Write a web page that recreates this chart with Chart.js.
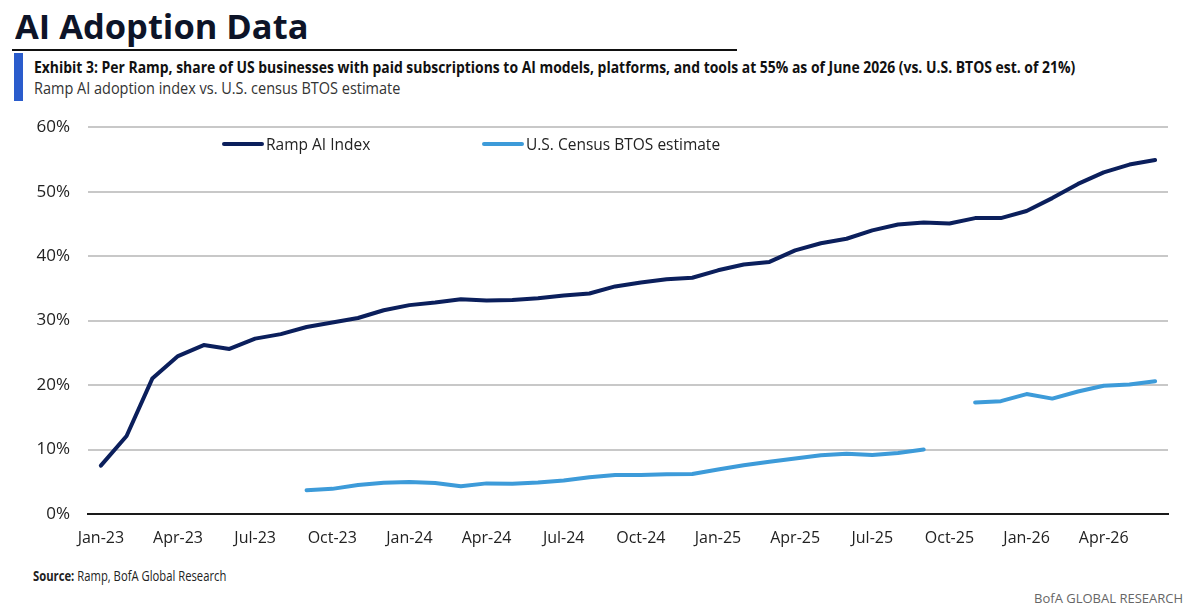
<!DOCTYPE html>
<html>
<head>
<meta charset="utf-8">
<script src="https://cdn.jsdelivr.net/npm/chart.js@4.4.1/dist/chart.umd.min.js"></script>
<style>
  html, body { margin: 0; padding: 0; background: #fff; }
  body { width: 1200px; height: 614px; position: relative; overflow: hidden; font-family: "Open Sans", sans-serif; }
  .abs { position: absolute; white-space: nowrap; transform-origin: 0 0; line-height: 1; }
  #title { left: 15px; top: 9px; font-size: 34px; font-weight: 700; color: #0d1428; }
  #rule { position: absolute; left: 12px; top: 49px; width: 725px; height: 2px; background: #111; }
  #bar { position: absolute; left: 14px; top: 53px; width: 9px; height: 48px; background: #2a5ccc; }
  #exhibit { left: 34px; top: 59px; font-size: 16.5px; font-weight: 700; color: #111; }
  #sub { left: 34px; top: 80px; font-size: 16.5px; color: #333; }
  #wrap { position: absolute; left: 0; top: 99px; width: 1200px; height: 466px; }
  #legend { position: absolute; top: 133px; left: 0; height: 18px; }
  .item { position: absolute; top: 0; display: flex; align-items: center; white-space: nowrap; font-size: 15.5px; color: #222; }
  .item span.sw { display: inline-block; width: 42px; height: 4px; border-radius: 2px; margin-right: 2px; }
  #source { left: 33px; top: 569px; font-size: 14px; color: #222; }
  #bofa { position: absolute; right: 17px; top: 589px; font-size: 13px; color: #666; white-space: nowrap; }
</style>
</head>
<body>
<div id="title" class="abs">AI Adoption Data</div>
<div id="rule"></div>
<div id="bar"></div>
<div id="exhibit" class="abs">Exhibit 3: Per Ramp, share of US businesses with paid subscriptions to AI models, platforms, and tools at 55% as of June 2026 (vs. U.S. BTOS est. of 21%)</div>
<div id="sub" class="abs">Ramp AI adoption index vs. U.S. census BTOS estimate</div>
<div id="wrap"><canvas id="chart1"></canvas></div>
<div id="legend"></div>
<div id="source" class="abs"><b>Source:</b> Ramp, BofA Global Research</div>
<div id="bofa">BofA GLOBAL RESEARCH</div>
<script>
// months, Jan-23 .. Jun-26
var months = [
  'Jan-23','Feb-23','Mar-23','Apr-23','May-23','Jun-23','Jul-23','Aug-23','Sep-23','Oct-23','Nov-23','Dec-23',
  'Jan-24','Feb-24','Mar-24','Apr-24','May-24','Jun-24','Jul-24','Aug-24','Sep-24','Oct-24','Nov-24','Dec-24',
  'Jan-25','Feb-25','Mar-25','Apr-25','May-25','Jun-25','Jul-25','Aug-25','Sep-25','Oct-25','Nov-25','Dec-25',
  'Jan-26','Feb-26','Mar-26','Apr-26','May-26','Jun-26'
];

// Ramp AI Index (%)
var rampIndex = [
  7.5, 12.1, 21.0, 24.5, 26.2, 25.6, 27.2, 27.9, 29.0, 29.7, 30.4, 31.6,
  32.4, 32.8, 33.3, 33.1, 33.2, 33.45, 33.9, 34.2, 35.3, 35.9, 36.4, 36.65,
  37.8, 38.7, 39.1, 40.9, 42.0, 42.7, 44.0, 44.9, 45.2, 45.05, 45.9, 45.9,
  47.0, 49.0, 51.2, 53.0, 54.2, 54.9
];

// U.S. Census BTOS estimate (%), no value for Oct-25
var btos = [
  null, null, null, null, null, null, null, null, 3.7, 3.9, 4.5, 4.85,
  4.95, 4.8, 4.3, 4.75, 4.7, 4.9, 5.2, 5.7, 6.05, 6.05, 6.15, 6.2,
  6.9, 7.55, 8.1, 8.6, 9.1, 9.35, 9.15, 9.45, 10.0, null, 17.3, 17.5,
  18.6, 17.9, 19.0, 19.9, 20.1, 20.6
];

var yTicks = [0, 10, 20, 30, 40, 50, 60];

var legendLeft = [222, 482];

function fitWidth(id, w) {
  var el = document.getElementById(id);
  el.style.transform = 'scaleX(' + (w / el.scrollWidth) + ')';
}

function draw() {
  fitWidth('title', 293);
  fitWidth('exhibit', 1041);
  fitWidth('sub', 366);
  fitWidth('source', 193);

  var ctx = document.getElementById('chart1').getContext('2d');
  var myChart = new Chart(ctx, {
    type: 'line',
    data: {
      labels: months,
      datasets: [{
        label: 'Ramp AI Index',
        data: rampIndex,
        borderColor: '#0b1f5c',
        backgroundColor: '#0b1f5c',
        borderWidth: 4,
        pointRadius: 0,
        tension: 0,
        borderCapStyle: 'round',
        borderJoinStyle: 'round'
      },
      {
        label: 'U.S. Census BTOS estimate',
        data: btos,
        borderColor: '#3d9bd9',
        backgroundColor: '#3d9bd9',
        borderWidth: 4,
        pointRadius: 0,
        tension: 0,
        spanGaps: false,
        borderCapStyle: 'round',
        borderJoinStyle: 'round'
      }]
    },
    options: {
      maintainAspectRatio: false,
      animation: false,
      layout: { padding: { top: 16, right: 32, left: 0, bottom: 0 } },
      plugins: {
        legend: { display: false },
        tooltip: { enabled: false }
      },
      scales: {
        x: {
          offset: true,
          grid: { display: false, drawTicks: false },
          border: { display: true, color: '#1a1a1a', width: 2 },
          afterFit: function(scale) { scale.height = 51; },
          ticks: {
            autoSkip: false,
            maxRotation: 0,
            padding: 15,
            color: '#222',
            font: { family: 'Open Sans', size: 16 },
            callback: function(v, i) { return i % 3 === 0 ? months[i] : ''; }
          }
        },
        y: {
          min: 0,
          max: 60,
          afterFit: function(scale) { scale.width = 88; },
          afterBuildTicks: function(scale) {
            scale.ticks = yTicks.map(function(v) { return { value: v }; });
          },
          grid: {
            drawTicks: false,
            lineWidth: 2,
            color: function(c) { return c.tick && c.tick.value === 0 ? 'rgba(0,0,0,0)' : '#c8c8c8'; }
          },
          border: { display: false },
          ticks: {
            padding: 18,
            color: '#222',
            font: { family: 'Open Sans', size: 17 },
            callback: function(v) { return v + '%'; }
          }
        }
      }
    }
  });

  // legend inside the plot, built from the datasets
  var box = document.getElementById('legend');
  myChart.data.datasets.forEach(function(ds, i) {
    var item = document.createElement('div');
    item.className = 'item';
    item.style.left = legendLeft[i] + 'px';
    item.innerHTML = '<span class="sw" style="background:' + ds.borderColor + '"></span>' + ds.label;
    box.appendChild(item);
  });
}

if (document.fonts && document.fonts.ready) {
  document.fonts.ready.then(draw);
} else {
  draw();
}
</script>
</body>
</html>
